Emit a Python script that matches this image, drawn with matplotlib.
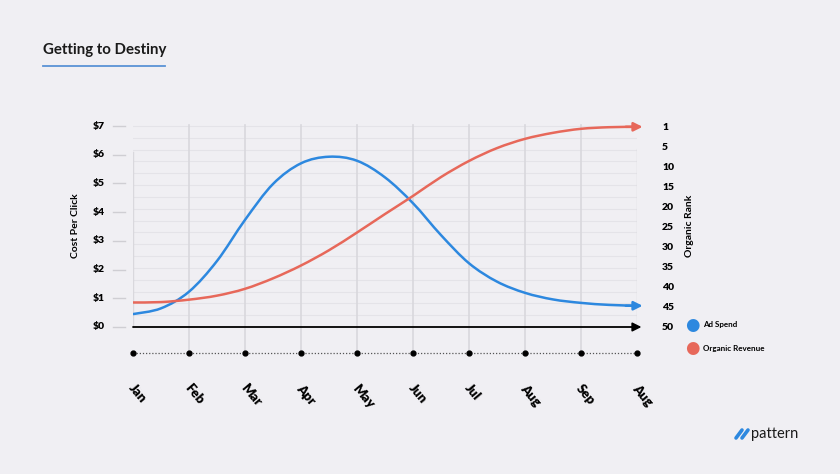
import matplotlib.pyplot as plt
from matplotlib.path import Path
from matplotlib.patches import PathPatch
import numpy as np

# months along the bottom (the last one really says Aug again)
months = ['Jan', 'Feb', 'Mar', 'Apr', 'May', 'Jun', 'Jul', 'Aug', 'Sep', 'Aug']

# readings every half month, 0 = Jan ... 9 = last Aug
half_steps = [0, 0.5, 1, 1.5, 2, 2.5, 3, 3.5, 4, 4.5, 5, 5.5, 6, 6.5, 7, 7.5, 8, 8.5, 9]

# cost per click in dollars
ad_spend = [0.45, 0.65, 1.23, 2.30, 3.73, 4.98, 5.70, 5.93, 5.79, 5.21,
            4.31, 3.20, 2.22, 1.58, 1.19, 0.96, 0.84, 0.77, 0.74]

# organic rank position (0 is the top of the rank scale)
organic = [43.9, 43.8, 43.2, 42.2, 40.5, 37.9, 34.7, 30.9, 26.5, 21.9,
           17.4, 12.7, 8.7, 5.5, 3.2, 1.7, 0.7, 0.3, 0.2]

cpc_ticks = [0, 1, 2, 3, 4, 5, 6, 7]
cpc_labels = ['$0', '$1', '$2', '$3', '$4', '$5', '$6', '$7']
rank_ticks = [0, 5, 10, 15, 20, 25, 30, 35, 40, 45, 50]
rank_labels = ['1', '5', '10', '15', '20', '25', '30', '35', '40', '45', '50']

BLUE = '#2d88df'
RED = '#e7685a'
BG = '#f0eff3'
FONT = 'Lato'


def smooth_curve(axis, xs, ys, color):
    # catmull-rom through the readings, drawn as cubic bezier segments
    pts = list(zip(xs, ys))
    pts = [pts[0]] + pts + [pts[-1]]
    verts = [pts[1]]
    codes = [Path.MOVETO]
    for i in range(1, len(pts) - 2):
        p0, p1, p2, p3 = pts[i - 1], pts[i], pts[i + 1], pts[i + 2]
        c1 = (p1[0] + (p2[0] - p0[0]) / 6, p1[1] + (p2[1] - p0[1]) / 6)
        c2 = (p2[0] - (p3[0] - p1[0]) / 6, p2[1] - (p3[1] - p1[1]) / 6)
        verts += [c1, c2, p2]
        codes += [Path.CURVE4] * 3
    patch = PathPatch(Path(verts, codes), facecolor='none', edgecolor=color,
                      lw=1.8, capstyle='round', zorder=3)
    axis.add_patch(patch)
    axis.annotate('', xy=(xs[-1] + 0.1, ys[-1]), xytext=(xs[-1] - 0.2, ys[-1]),
                  arrowprops=dict(arrowstyle='-|>', color=color, lw=1.8,
                                  mutation_scale=13, shrinkA=0, shrinkB=0),
                  annotation_clip=False, zorder=3)


W, H = 840, 474
fig = plt.figure(figsize=(W / 100, H / 100), dpi=100, facecolor=BG)

# axes placed so that $0 sits at y=327px and $7 at y=126px
ylo, yhi = -1.0, 7.2
ppd = (327 - 126) / 7.0
top_px = 126 - (yhi - 7) * ppd
bot_px = 327 - ylo * ppd
ax = fig.add_axes([133 / W, (H - bot_px) / H, 504 / W, (bot_px - top_px) / H])
ax.set_facecolor(BG)
ax.set_xlim(0, 9)
ax.set_ylim(ylo, yhi)
for s in ax.spines.values():
    s.set_visible(False)
ax.set_xticks([])
ax.set_yticks([])

# faint horizontal grid
for gy in np.linspace(0, 7, 18)[1:]:
    ax.plot([0, 9], [gy, gy], color='#e4e3e8', lw=0.8, zorder=0)
# vertical grid
for i in range(1, 9):
    ax.plot([i, i], [-0.9, 7.05], color='#d9d8dd', lw=1.2, zorder=0)
ax.plot([0, 0], [0, 6.1], color='#d9d8dd', lw=1.0, zorder=0)
ax.plot([9, 9], [0, 6.2], color='#d9d8dd', lw=1.0, zorder=0)

# baseline arrow
ax.annotate('', xy=(9.08, 0), xytext=(0, 0),
            arrowprops=dict(arrowstyle='-|>', color='black', lw=1.3,
                            mutation_scale=13, shrinkA=0, shrinkB=0),
            annotation_clip=False)

# dotted month line with dots
ax.plot([0, 9], [-0.9, -0.9], color='#555555', lw=0.9, ls=(0, (1, 1.5)), clip_on=False)
ax.plot(range(10), [-0.9] * 10, 'o', color='black', ms=3.5, clip_on=False)

smooth_curve(ax, half_steps, ad_spend, BLUE)

rax = ax.twinx()
rax.set_ylim(50 - ylo * 50 / 7, 50 - yhi * 50 / 7)
for s in rax.spines.values():
    s.set_visible(False)
rax.set_xticks([])
rax.set_yticks(rank_ticks)
rax.set_yticklabels(rank_labels, fontsize=7.5, fontweight='heavy', family=FONT)
rax.tick_params(axis='y', length=0, pad=18)
smooth_curve(rax, half_steps, organic, RED)

# left tick labels + little dashes
for t, lab in zip(cpc_ticks, cpc_labels):
    ax.text(-0.5, t, lab, ha='right', va='center', fontsize=7.5,
            fontweight='heavy', family=FONT)
    ax.plot([-0.36, -0.14], [t, t], color='#cfced3', lw=1, clip_on=False)

# month labels
for i, m in enumerate(months):
    ax.text(i - 0.04, -2.05, m, rotation=-50, ha='left', va='center',
            fontsize=9.5, fontweight='heavy', family=FONT, rotation_mode='anchor')

fig.text(76 / W, 1 - 226 / H, 'Cost Per Click', rotation=90, ha='center', va='center',
         fontsize=7.5, fontweight='bold', family=FONT)
fig.text(690 / W, 1 - 226 / H, 'Organic Rank', rotation=90, ha='center', va='center',
         fontsize=7.5, fontweight='bold', family=FONT)

# legend
fig.text(692 / W, 1 - 325 / H, '\u25CF', color=BLUE, fontsize=12, ha='center', va='center')
fig.text(692 / W, 1 - 348 / H, '\u25CF', color=RED, fontsize=12, ha='center', va='center')
fig.text(703 / W, 1 - 325 / H, 'Ad Spend', fontsize=5.8, fontweight='bold',
         family=FONT, va='center')
fig.text(703 / W, 1 - 348 / H, 'Organic Revenue', fontsize=5.8, fontweight='bold',
         family=FONT, va='center')

# title with underline
fig.text(43 / W, 1 - 50 / H, 'Getting to Destiny', fontsize=10.8, fontweight='bold',
         family=FONT, va='center', color='#1a1a1a')
fig.add_artist(plt.Line2D([43 / W, 165 / W], [1 - 66 / H, 1 - 66 / H],
                          color='#5a93d6', lw=1.3))

# pattern logo
for dx in (0, 6):
    fig.add_artist(plt.Line2D([(736 + dx) / W, (742 + dx) / W],
                              [1 - 438 / H, 1 - 430 / H], color=BLUE, lw=2.6,
                              solid_capstyle='round'))
fig.text(751 / W, 1 - 434 / H, 'pattern', fontsize=10.5, family=FONT,
         va='center', color='#1a1a1a')

fig.savefig('out.png', dpi=100, facecolor=BG)
